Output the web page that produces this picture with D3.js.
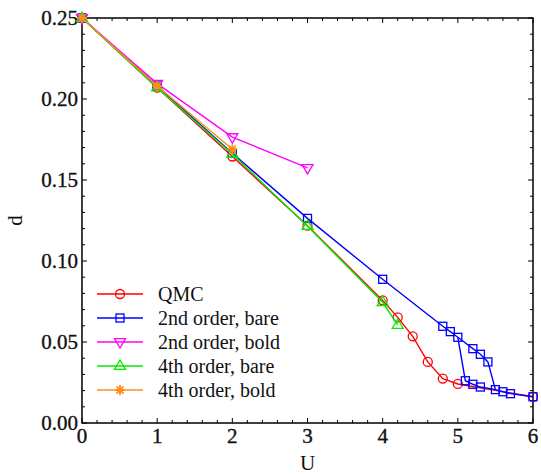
<!DOCTYPE html>
<html><head><meta charset="utf-8">
<script src="https://cdn.jsdelivr.net/npm/d3@7"></script>
<style>body{margin:0;background:#fff}svg{display:block}</style>
</head><body><svg id="c" width="541" height="474" font-family="'Liberation Serif', 'DejaVu Serif', 'Times New Roman', Tinos, 'Noto Serif', serif"></svg>
<script>
// ---- data ----
const qmcU = [0, 1, 2, 3, 4, 4.2, 4.4, 4.6, 4.8, 5.0, 6.0];
const qmcD = [0.250, 0.207, 0.1645, 0.1218, 0.0757, 0.0652, 0.0535, 0.0377, 0.0274, 0.0241, 0.0162];

const bareU = [0, 1, 2, 3, 4, 4.8, 4.9, 5.0, 5.1, 5.2, 5.3, 5.5, 5.6, 5.7, 6.0];
const bareD = [0.250, 0.208, 0.1665, 0.1263, 0.0887, 0.0597, 0.0564, 0.0529, 0.0261, 0.0239, 0.0222, 0.0206, 0.0193, 0.0181, 0.0162];
const bareUpperU = [5.0, 5.2, 5.3, 5.4, 5.5];
const bareUpperD = [0.0529, 0.0459, 0.0424, 0.0377, 0.0206];

const boldU = [0, 1, 2, 3];
const boldD = [0.250, 0.2095, 0.1765, 0.1575];

const bare4U = [0, 1, 2, 3, 4, 4.2];
const bare4D = [0.250, 0.207, 0.166, 0.1215, 0.0745, 0.0605];

const bold4U = [0, 1, 2];
const bold4D = [0.250, 0.208, 0.169];

const seriesNames = ["QMC", "2nd order, bare", "2nd order, bold", "4th order, bare", "4th order, bold"];
const seriesColors = ["#ff0000", "#0000ff", "#ff00ff", "#00ee00", "#ff8c1a"];
const seriesMarkers = ["circle", "square", "tridown", "triup", "star"];

const xTicks = [0, 1, 2, 3, 4, 5, 6];
const yTicks = [0.00, 0.05, 0.10, 0.15, 0.20, 0.25];

// ---- layout ----
const L = 82, R = 533, T = 18, B = 423;
const FONT = "'Liberation Serif', 'DejaVu Serif', 'Times New Roman', Tinos, 'Noto Serif', serif";
const svg = d3.select("#c");
const x = d3.scaleLinear().domain([0, 6]).range([L, R]);
const y = d3.scaleLinear().domain([0, 0.25]).range([B, T]);

const g = svg.append("g");
const xMinor = d3.range(0, 6.0001, 0.2).map(v => +v.toFixed(2));
const yMinor = d3.range(0, 0.25001, 0.01).map(v => +v.toFixed(3));
function isMajorX(v){return Math.abs(v - Math.round(v)) < 1e-6;}
function isMajorY(v){return Math.abs(v*20 - Math.round(v*20)) < 1e-6;}
xMinor.forEach(v => {
  const len = isMajorX(v) ? 5 : 3;
  g.append("line").attr("x1", x(v)).attr("x2", x(v)).attr("y1", B).attr("y2", B - len).attr("stroke", "#000").attr("stroke-width", 1);
  g.append("line").attr("x1", x(v)).attr("x2", x(v)).attr("y1", T).attr("y2", T + len).attr("stroke", "#000").attr("stroke-width", 1);
});
yMinor.forEach(v => {
  const len = isMajorY(v) ? 5 : 3;
  g.append("line").attr("x1", L).attr("x2", L + len).attr("y1", y(v)).attr("y2", y(v)).attr("stroke", "#000").attr("stroke-width", 1);
  g.append("line").attr("x1", R).attr("x2", R - len).attr("y1", y(v)).attr("y2", y(v)).attr("stroke", "#000").attr("stroke-width", 1);
});
svg.append("rect").attr("x", L).attr("y", T).attr("width", R - L).attr("height", B - T)
  .attr("fill", "none").attr("stroke", "#000").attr("stroke-width", 1.5);

xTicks.forEach(v => {
  svg.append("text").attr("x", x(v)).attr("y", B + 20).attr("text-anchor", "middle").attr("font-family", FONT)
    .attr("font-size", 21).attr("fill", "#111").attr("stroke", "#111").attr("stroke-width", 0.35).text(d3.format("d")(v));
});
yTicks.forEach(v => {
  svg.append("text").attr("x", L - 4).attr("y", y(v) + 7).attr("text-anchor", "end").attr("font-family", FONT)
    .attr("font-size", 21).attr("fill", "#111").attr("stroke", "#111").attr("stroke-width", 0.35).text(d3.format(".2f")(v));
});
svg.append("text").attr("x", (L + R) / 2).attr("y", 470).attr("text-anchor", "middle").attr("font-family", FONT).attr("font-size", 21).attr("fill", "#111").text("U");
svg.append("text").attr("transform", `translate(22,${(T + B) / 2}) rotate(-90)`).attr("text-anchor", "middle").attr("font-family", FONT).attr("font-size", 21).attr("fill", "#111").text("d");

// ---- series ----
const line = d3.line().x(d => x(d[0])).y(d => y(d[1]));
function zip(a, b){return a.map((v, i) => [v, b[i]]);}

function marker(sel, type, color, cx, cy){
  const sw = 1.3;
  if (type === "circle") {
    sel.append("circle").attr("cx", cx).attr("cy", cy).attr("r", 4.5).attr("fill", "none").attr("stroke", color).attr("stroke-width", sw);
  } else if (type === "square") {
    sel.append("rect").attr("x", cx - 4).attr("y", cy - 4).attr("width", 8).attr("height", 8).attr("fill", "none").attr("stroke", color).attr("stroke-width", sw);
  } else if (type === "tridown") {
    const s = 5.5;
    sel.append("path").attr("d", `M${cx - s},${cy - s*0.6}L${cx + s},${cy - s*0.6}L${cx},${cy + s*1.1}Z`).attr("fill", "none").attr("stroke", color).attr("stroke-width", sw);
  } else if (type === "triup") {
    const s = 5.5;
    sel.append("path").attr("d", `M${cx - s},${cy + s*0.6}L${cx + s},${cy + s*0.6}L${cx},${cy - s*1.1}Z`).attr("fill", "none").attr("stroke", color).attr("stroke-width", sw);
  } else if (type === "star") {
    const s = 5;
    const p = [];
    for (let k = 0; k < 4; k++) {
      const a = k * Math.PI / 4;
      p.push(`M${cx - s*Math.cos(a)},${cy - s*Math.sin(a)}L${cx + s*Math.cos(a)},${cy + s*Math.sin(a)}`);
    }
    sel.append("path").attr("d", p.join("")).attr("stroke", color).attr("stroke-width", 1.8);
  }
}

const seriesData = [
  [zip(qmcU, qmcD)],
  [zip(bareU, bareD), zip(bareUpperU, bareUpperD)],
  [zip(boldU, boldD)],
  [zip(bare4U, bare4D)],
  [zip(bold4U, bold4D)]
];

const plot = svg.append("g");
seriesData.forEach((branches, i) => {
  const sg = plot.append("g");
  branches.forEach(pts => {
    sg.append("path").attr("d", line(pts)).attr("fill", "none").attr("stroke", seriesColors[i]).attr("stroke-width", 1.4);
  });
  branches.forEach((pts, bi) => {
    pts.forEach((p, j) => {
      if (bi > 0 && (j === 0 || j === pts.length - 1)) return;
      marker(sg, seriesMarkers[i], seriesColors[i], x(p[0]), y(p[1]));
    });
  });
});

// ---- legend ----
const leg = svg.append("g");
seriesNames.forEach((name, i) => {
  const yy = 294 + i * 24;
  leg.append("line").attr("x1", 97).attr("x2", 143).attr("y1", yy).attr("y2", yy).attr("stroke", seriesColors[i]).attr("stroke-width", 1.4);
  marker(leg, seriesMarkers[i], seriesColors[i], 120, yy);
  leg.append("text").attr("x", 158).attr("y", yy + 7).attr("font-family", FONT).attr("font-size", 20).attr("fill", "#111").text(name);
});
</script></body></html>
